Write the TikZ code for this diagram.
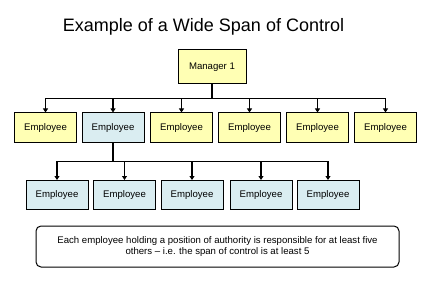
\documentclass[tikz,border=0pt]{standalone}
\usepackage{fontspec}
\setmainfont{Liberation Sans}
\usepackage{tikz}
\usetikzlibrary{arrows.meta}
\definecolor{chartyellow}{RGB}{255,255,180}
\definecolor{chartblue}{RGB}{218,237,241}

\begin{document}
\begin{tikzpicture}[x=1pt, y=-1pt, line width=1.1pt,
    ybox/.style={draw, line width=1pt, fill=chartyellow, minimum width=62, minimum height=30, inner sep=0pt, font=\fontsize{9.6}{11}\selectfont},
    bbox/.style={ybox, fill=chartblue, minimum height=29},
    conn/.style={-{Triangle[width=5pt,length=4pt]}}]
  \useasboundingbox (0,0) rectangle (425,283);
  \node[font=\fontsize{18}{20}\selectfont] (title) at (203.5,27) {Example of a Wide Span of Control};
  \node[ybox, minimum width=68, minimum height=34] (mgr) at (212,67) {Manager 1};
  \foreach \i/\x in {1/45.5, 3/181.5, 4/249.5, 5/317.5, 6/385.5}
    \node[ybox] (e\i) at (\x,128) {Employee};
  \node[bbox, minimum height=30] (e2) at (113,128) {Employee};
  \foreach \i in {1,...,6} \draw[conn] (mgr.south) -- ++(0,14) -| (e\i.north);
  \foreach \j/\x in {1/57, 2/124.5, 3/192, 4/261, 5/328}
    \node[bbox] (s\j) at (\x,195) {Employee};
  \foreach \j in {1,...,5} \draw[conn] (e2.south) -- ++(0,18) -| (s\j.north);
  \node[draw, line width=1pt, rounded corners=5, minimum width=363, minimum height=41, align=center, font=\fontsize{9.6}{11}\selectfont] (note) at (217.5,246.5)
    {Each employee holding a position of authority is responsible for at least five\\ others -- i.e. the span of control is at least 5};
\end{tikzpicture}
\end{document}
